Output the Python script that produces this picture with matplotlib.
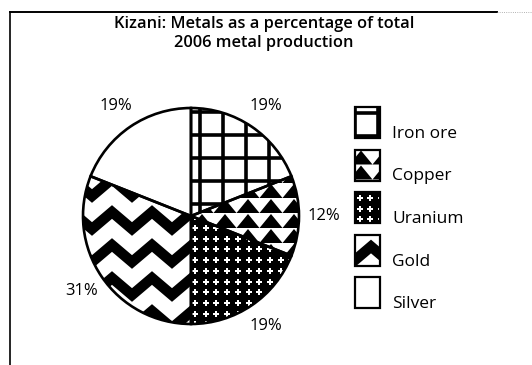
import numpy as np
import matplotlib
matplotlib.use('Agg')
import matplotlib.pyplot as plt
from matplotlib.patches import Rectangle
from matplotlib.collections import PolyCollection

# Anteile der Metalle an der Gesamtproduktion 2006 (Prozent)
metals = ['Iron ore', 'Copper', 'Uranium', 'Gold', 'Silver']
shares = [19, 12, 19, 31, 19]
pct_labels = [f'{s}%' for s in shares]
title_lines = ['Kizani: Metals as a percentage of total', '2006 metal production']

W, H = 532, 365
plt.rcParams['font.family'] = ['Open Sans', 'DejaVu Sans']

fig = plt.figure(figsize=(W / 100, H / 100), dpi=100)
ax = fig.add_axes([0, 0, 1, 1])

fills = ['white', 'white', 'black', 'white', 'white']
cx, cy, rad = 191, 216, 108


# --- Muster-Funktionen, jeweils auf ein Patch zugeschnitten ---
def grid_pattern(clip, box, origin, step=23, lw=2.6):
    x0, y0, x1, y1 = box
    ox, oy = origin
    for x in np.arange(ox - step * np.ceil((ox - x0) / step), x1 + 1, step):
        ln, = ax.plot([x, x], [y0, y1], color='black', lw=lw, zorder=3)
        ln.set_clip_path(clip)
    for y in np.arange(oy - step * np.ceil((oy - y0) / step), y1 + 1, step):
        ln, = ax.plot([x0, x1], [y, y], color='black', lw=lw, zorder=3)
        ln.set_clip_path(clip)


def triangle_pattern(clip, box, origin, dx=23, dy=15, h=14):
    x0, y0, x1, y1 = box
    ox, oy = origin
    tris = []
    for yb in np.arange(oy - dy * np.ceil((oy - y0) / dy), y1 + dy, dy):
        for xa in np.arange(ox - dx * np.ceil((ox - x0) / dx), x1 + dx, dx):
            tris.append([(xa - dx / 2, yb), (xa, yb - h), (xa + dx / 2, yb)])
    pc = PolyCollection(tris, facecolor='black', edgecolor='none', zorder=3)
    ax.add_collection(pc)
    pc.set_clip_path(clip)


def dot_pattern(clip, box, origin, step=10.7, ms=4.5):
    x0, y0, x1, y1 = box
    ox, oy = origin
    xs = np.arange(ox - step * np.ceil((ox - x0) / step), x1 + 1, step)
    ys = np.arange(oy - step * np.ceil((oy - y0) / step), y1 + 1, step)
    gx, gy = np.meshgrid(xs, ys)
    ln, = ax.plot(gx.ravel(), gy.ravel(), ls='none', marker='P', ms=ms,
                  color='white', mew=0, zorder=3)
    ln.set_clip_path(clip)


def zigzag_pattern(clip, box, origin, period=40, amp=17, gap=33, lw=7.5):
    x0, y0, x1, y1 = box
    ox, oy = origin
    half = period / 2
    xs = np.arange(ox - period * np.ceil((ox - x0) / period) - period, x1 + period, half)
    up = np.round((xs - ox) / half).astype(int) % 2 == 0
    for yc in np.arange(oy - gap * np.ceil((oy - y0) / gap) - gap, y1 + gap, gap):
        ys = np.where(up, yc, yc + amp)
        ln, = ax.plot(xs, ys, color='black', lw=lw, solid_joinstyle='miter', zorder=3)
        ln.set_clip_path(clip)


def draw_pattern(name, clip, box, origin):
    if name == 'Iron ore':
        grid_pattern(clip, box, origin)
    elif name == 'Copper':
        triangle_pattern(clip, box, origin)
    elif name == 'Uranium':
        dot_pattern(clip, box, origin)
    elif name == 'Gold':
        zigzag_pattern(clip, box, origin)


# --- Kreisdiagramm (y-Achse zeigt nach unten, daher startangle=-90) ---
wedges, texts = ax.pie(shares, labels=pct_labels, colors=fills, center=(cx, cy),
                       radius=rad, startangle=-90, counterclock=True,
                       labeldistance=1.23, wedgeprops=dict(edgecolor='none'),
                       textprops=dict(fontsize=12, color='black'))
for t in texts:
    t.set_ha('center')
    t.set_va('center')

pie_box = (cx - rad, cy - rad, cx + rad, cy + rad)
pie_origins = {'Iron ore': (199.5, 135), 'Copper': (248, 198),
               'Uranium': (195, 228), 'Gold': (112, 212)}
for name, w in zip(metals, wedges):
    if name in pie_origins:
        draw_pattern(name, w, pie_box, pie_origins[name])

# Umrisse obenauf
ax.pie(shares, center=(cx, cy), radius=rad, startangle=-90, counterclock=True,
       wedgeprops=dict(fill=False, edgecolor='black', linewidth=1.9, zorder=5))

# --- Legende ---
box_x, box_w, box_h = 355, 25, 31
row_top, row_step = 107, 42.5
for i, name in enumerate(metals):
    top = row_top + i * row_step
    rect = Rectangle((box_x, top), box_w, box_h, facecolor=fills[i],
                     edgecolor='none', zorder=2)
    ax.add_patch(rect)
    box = (box_x, top, box_x + box_w, top + box_h)
    legend_origins = {'Iron ore': (box_x, top + 6), 'Copper': (box_x + 6, top + 15),
                      'Uranium': (box_x + 4.5, top + 6), 'Gold': (box_x + 16, top + 12)}
    if name in legend_origins:
        draw_pattern(name, rect, box, legend_origins[name])
    ax.add_patch(Rectangle((box_x, top), box_w, box_h, fill=False,
                           edgecolor='black', lw=1.6, zorder=5))
    ax.text(392, top + box_h, name, fontsize=12.5, ha='left', va='baseline')

# --- Titel ---
for j, line in enumerate(title_lines):
    ax.text(264, 28 + 19 * j, line, fontsize=11.8, fontweight='semibold',
            ha='center', va='baseline')

# Rahmen (nur links und oben)
ax.plot([10, 10], [12, H], color='black', lw=1.2, zorder=1)
ax.plot([10, 497], [12, 12], color='black', lw=1.4, zorder=1)
ax.plot([497, W], [12, 12], color='0.6', lw=0.6, ls=':', zorder=1)

ax.set_xlim(0, W)
ax.set_ylim(H, 0)
ax.set_aspect('equal')
ax.axis('off')

fig.savefig('out.png', dpi=100)
